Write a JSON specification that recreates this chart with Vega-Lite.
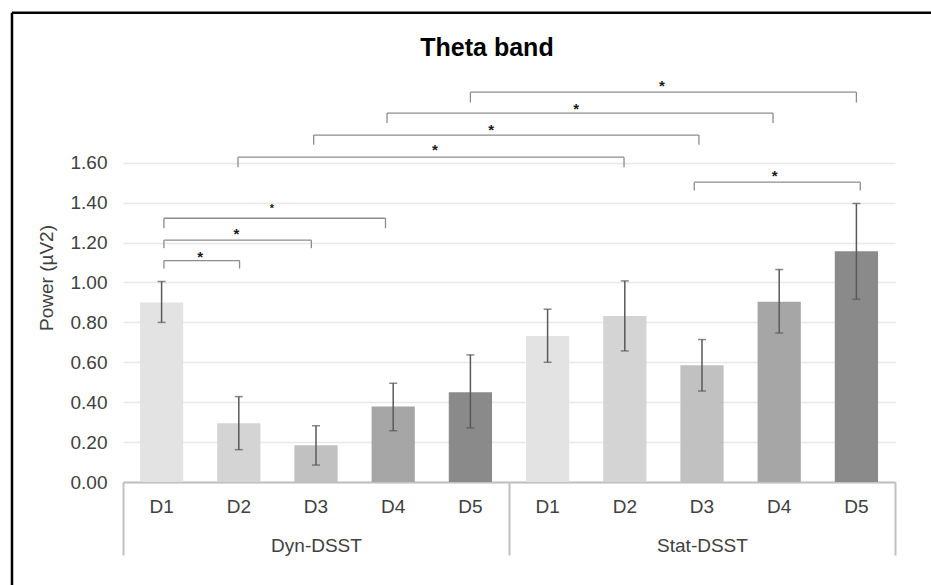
{
  "$schema": "https://vega.github.io/schema/vega-lite/v6.json",
  "width": 772,
  "height": 409,
  "autosize": {"type": "none"},
  "padding": {"left": 123, "top": 73, "right": 36, "bottom": 103},
  "background": "white",
  "config": {"font": "Liberation Sans", "view": {"stroke": null}},
  "title": {"text": "Theta band", "fontSize": 25, "fontWeight": "bold", "color": "#000000", "anchor": "middle", "frame": "group", "dx": -22, "offset": -50, "font": "Liberation Sans"},
  "datasets": {
    "bars": [
      {"key": "Dyn-DSST D1", "group": "Dyn-DSST", "day": "D1", "power": 0.90, "lo": 0.800, "hi": 1.005},
      {"key": "Dyn-DSST D2", "group": "Dyn-DSST", "day": "D2", "power": 0.295, "lo": 0.162, "hi": 0.428},
      {"key": "Dyn-DSST D3", "group": "Dyn-DSST", "day": "D3", "power": 0.184, "lo": 0.085, "hi": 0.282},
      {"key": "Dyn-DSST D4", "group": "Dyn-DSST", "day": "D4", "power": 0.378, "lo": 0.257, "hi": 0.495},
      {"key": "Dyn-DSST D5", "group": "Dyn-DSST", "day": "D5", "power": 0.450, "lo": 0.271, "hi": 0.637},
      {"key": "Stat-DSST D1", "group": "Stat-DSST", "day": "D1", "power": 0.732, "lo": 0.600, "hi": 0.866},
      {"key": "Stat-DSST D2", "group": "Stat-DSST", "day": "D2", "power": 0.832, "lo": 0.657, "hi": 1.008},
      {"key": "Stat-DSST D3", "group": "Stat-DSST", "day": "D3", "power": 0.585, "lo": 0.456, "hi": 0.714},
      {"key": "Stat-DSST D4", "group": "Stat-DSST", "day": "D4", "power": 0.904, "lo": 0.747, "hi": 1.065},
      {"key": "Stat-DSST D5", "group": "Stat-DSST", "day": "D5", "power": 1.157, "lo": 0.916, "hi": 1.396}
    ],
    "groups": [
      {"group": "Dyn-DSST"},
      {"group": "Stat-DSST"}
    ],
    "brackets": [
      {"id": "B1", "from": 4.50, "to": 9.50, "level": 1.954, "leg": 1.902, "mid": 6.98, "star": 2.004, "label": "*"},
      {"id": "B2", "from": 3.42, "to": 8.42, "level": 1.849, "leg": 1.799, "mid": 5.87, "star": 1.889, "label": "*"},
      {"id": "B3", "from": 2.47, "to": 7.46, "level": 1.739, "leg": 1.690, "mid": 4.77, "star": 1.785, "label": "*"},
      {"id": "B4", "from": 1.49, "to": 6.49, "level": 1.628, "leg": 1.578, "mid": 4.04, "star": 1.682, "label": "*"},
      {"id": "B5", "from": 7.40, "to": 9.55, "level": 1.503, "leg": 1.461, "mid": 8.44, "star": 1.553, "label": "*"},
      {"id": "B6", "from": 0.53, "to": 3.40, "level": 1.322, "leg": 1.272, "mid": 1.93, "star": 1.389, "label": "*"},
      {"id": "B7", "from": 0.53, "to": 2.44, "level": 1.212, "leg": 1.172, "mid": 1.47, "star": 1.262, "label": "*"},
      {"id": "B8", "from": 0.53, "to": 1.51, "level": 1.110, "leg": 1.070, "mid": 1.00, "star": 1.147, "label": "*"}
    ],
    "frame": [
      {"x": -1.438, "x2": 11.0, "y": 2.352, "y2": 2.352},
      {"x": -1.438, "x2": -1.438, "y": 2.352, "y2": -0.6}
    ]
  },
  "layer": [
    {
      "data": {"name": "bars"},
      "encoding": {
        "x": {
          "field": "key", "type": "nominal", "sort": null,
          "scale": {"paddingInner": 0.44, "paddingOuter": 0.22},
          "axis": {"orient": "bottom", "title": null, "domain": false, "ticks": false, "labelAngle": 0, "labelPadding": 15, "labelFontSize": 19, "labelColor": "#404040", "labelExpr": "split(datum.label, ' ')[1]"}
        }
      },
      "layer": [
        {
          "mark": {"type": "bar"},
          "encoding": {
            "y": {
              "field": "power", "type": "quantitative",
              "scale": {"domain": [0, 2.05], "nice": false},
              "axis": {"values": [0, 0.2, 0.4, 0.6, 0.8, 1.0, 1.2, 1.4, 1.6], "format": ".2f", "domain": false, "ticks": false, "grid": true, "gridColor": "#e8e8e8", "gridWidth": 1.5, "labelFontSize": 19, "labelColor": "#404040", "labelPadding": 16, "title": "Power (µV2)", "titleFontSize": 19, "titleFontWeight": "normal", "titleColor": "#404040", "titlePadding": 14}
            },
            "color": {
              "field": "day", "type": "nominal",
              "scale": {"domain": ["D1", "D2", "D3", "D4", "D5"], "range": ["#e3e3e3", "#d4d4d4", "#c1c1c1", "#a6a6a6", "#8a8a8a"]},
              "legend": null
            }
          }
        },
        {
          "mark": {"type": "rule", "color": "#595959", "strokeWidth": 1.5},
          "encoding": {"y": {"field": "lo", "type": "quantitative"}, "y2": {"field": "hi"}}
        },
        {
          "mark": {"type": "tick", "orient": "horizontal", "size": 8, "thickness": 1.5, "color": "#595959"},
          "encoding": {"y": {"field": "lo", "type": "quantitative"}}
        },
        {
          "mark": {"type": "tick", "orient": "horizontal", "size": 8, "thickness": 1.5, "color": "#595959"},
          "encoding": {"y": {"field": "hi", "type": "quantitative"}}
        }
      ]
    },
    {
      "data": {"name": "groups"},
      "mark": {"type": "text", "opacity": 0, "text": ""},
      "encoding": {
        "x": {
          "field": "group", "type": "nominal", "sort": null,
          "scale": {"paddingInner": 0, "paddingOuter": 0},
          "axis": {"orient": "bottom", "title": null, "domain": true, "domainColor": "#c0c0c0", "domainWidth": 2, "ticks": true, "tickBand": "extent", "tickSize": 73, "tickColor": "#c0c0c0", "tickWidth": 2, "labelAngle": 0, "labelPadding": -19, "labelFontSize": 19, "labelColor": "#404040"}
        }
      }
    },
    {
      "layer": [
        {
          "data": {"name": "brackets"},
          "mark": {"type": "rule", "color": "#8c8c8c", "strokeWidth": 1.3},
          "encoding": {
            "x": {"field": "from", "type": "quantitative", "scale": {"domain": [0, 10], "nice": false, "zero": false}, "axis": null},
            "x2": {"field": "to"},
            "y": {"field": "level", "type": "quantitative"}
          }
        },
        {
          "data": {"name": "brackets"},
          "mark": {"type": "rule", "color": "#8c8c8c", "strokeWidth": 1.3},
          "encoding": {
            "x": {"field": "from", "type": "quantitative"},
            "y": {"field": "level", "type": "quantitative"},
            "y2": {"field": "leg"}
          }
        },
        {
          "data": {"name": "brackets"},
          "mark": {"type": "rule", "color": "#8c8c8c", "strokeWidth": 1.3},
          "encoding": {
            "x": {"field": "to", "type": "quantitative"},
            "y": {"field": "level", "type": "quantitative"},
            "y2": {"field": "leg"}
          }
        },
        {
          "data": {"name": "brackets"},
          "mark": {"type": "text", "color": "#1a1a1a", "fontWeight": "bold", "baseline": "middle", "align": "center", "dy": 4},
          "encoding": {
            "x": {"field": "mid", "type": "quantitative"},
            "y": {"field": "star", "type": "quantitative"},
            "text": {"field": "label"},
            "size": {"condition": {"test": "datum.id === 'B6'", "value": 11}, "value": 15}
          }
        },
        {
          "data": {"name": "frame"},
          "mark": {"type": "rule", "color": "#000000", "strokeWidth": 2.5},
          "encoding": {
            "x": {"field": "x", "type": "quantitative"},
            "x2": {"field": "x2"},
            "y": {"field": "y", "type": "quantitative"},
            "y2": {"field": "y2"}
          }
        }
      ]
    }
  ],
  "resolve": {"scale": {"x": "independent"}}
}
